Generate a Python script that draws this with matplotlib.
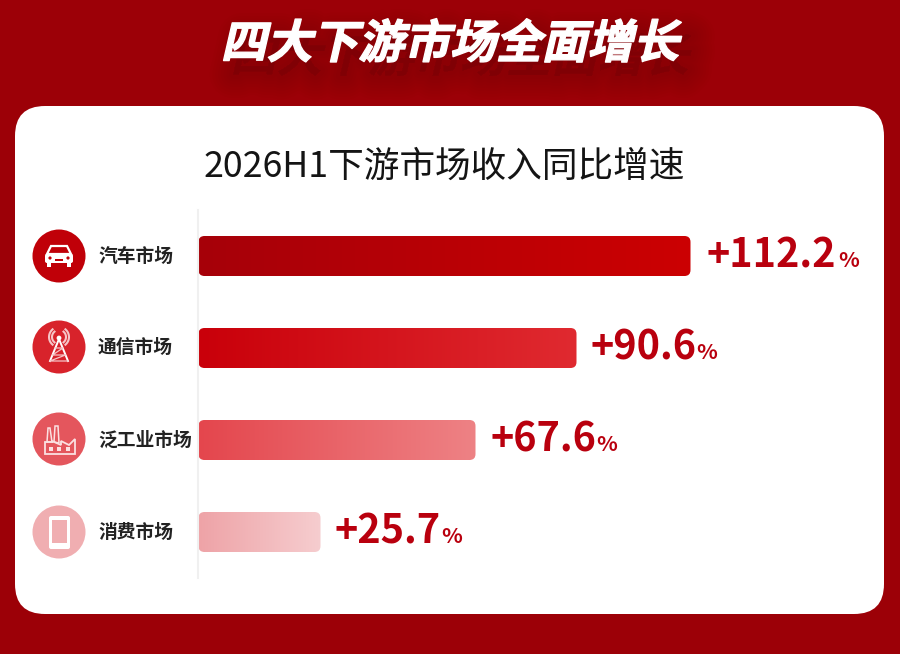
# -*- coding: utf-8 -*-
import numpy as np
import matplotlib
matplotlib.use('Agg')
import matplotlib.pyplot as plt
from matplotlib.patches import FancyBboxPatch, Circle, Rectangle, Polygon
from matplotlib.colors import LinearSegmentedColormap
from matplotlib.patheffects import AbstractPathEffect
from matplotlib.transforms import Affine2D

plt.rcParams['font.family'] = ['Noto Sans CJK SC', 'DejaVu Sans']

main_title = '四大下游市场全面增长'
sub_title = '2026H1下游市场收入同比增速'
categories = ['汽车市场', '通信市场', '泛工业市场', '消费市场']
values = [112.2, 90.6, 67.6, 25.7]
# drawn bar lengths, they are not quite to scale with the labels
bar_lengths = [492, 378, 277, 122]

bg_red = '#9c0007'
text_red = '#b9000e'
bar_left = ['#a60009', '#c9000a', '#e4464d', '#eea3a7']
bar_right = ['#cc0002', '#e02a30', '#ee8285', '#f6cdcf']
icon_col = ['#c00008', '#d8232b', '#e4565d', '#f0aeb1']


class Slant(AbstractPathEffect):
    # fake italic for the CJK title, the font has no oblique face
    def __init__(self, deg=13, offset=(0, 0), color=None, alpha=None, lw=0):
        super().__init__(offset)
        self.deg = deg
        self.color = color
        self.alpha = alpha
        self.lw = lw

    def draw_path(self, renderer, gc, tpath, affine, rgbFace=None):
        gc0 = renderer.new_gc()
        gc0.copy_properties(gc)
        face = rgbFace
        if self.color is not None:
            face = matplotlib.colors.to_rgba(self.color, self.alpha)
            gc0.set_foreground(face)
            gc0.set_linewidth(self.lw)
            gc0.set_alpha(self.alpha)
        aff = Affine2D().skew_deg(self.deg, 0) + affine
        aff = aff + Affine2D().translate(*self._offset_transform(renderer).to_values()[4:])
        renderer.draw_path(gc0, tpath, aff, face)
        gc0.restore()


fig = plt.figure(figsize=(9, 6.54), dpi=100, facecolor=bg_red)

# page layer in pixel coordinates
bg = fig.add_axes([0, 0, 1, 1])
bg.set_xlim(0, 900)
bg.set_ylim(654, 0)
bg.axis('off')

card = FancyBboxPatch((15, 106), 869, 508, boxstyle='round,pad=0,rounding_size=30',
                      fc='white', ec='none')
bg.add_patch(card)

shadow = [Slant(13, (7, -10), '#5a0005', 0.022, 6 + 4 * k) for k in range(8)]
bg.text(450, 45, main_title, ha='center', va='center', fontsize=33, fontweight='bold',
        color='white', path_effects=shadow + [Slant(13, (0, 0), 'white', 1, 1.0)])
bg.text(444.5, 167, sub_title, ha='center', va='center', fontsize=25.7, color='#141414')

# chart layer: x in px from the bar start, y in category index
ax = fig.add_axes([198 / 900, 1 - 578 / 654, 686 / 900, 368 / 654])
ax.set_xlim(0, 686)
ax.set_ylim(3.5, -0.5)
ax.patch.set_alpha(0)
for s in ['top', 'right', 'bottom']:
    ax.spines[s].set_visible(False)
ax.spines['left'].set_color('#f0f0f0')
ax.spines['left'].set_linewidth(1.5)
ax.set_xticks([])
ax.set_yticks([])

bar_h = 40 / 92
label_gap = [17, 14, 15, 15]
pct_gap = [1.5, 0, 0, 0]
for i, (length, val) in enumerate(zip(bar_lengths, values)):
    cmap = LinearSegmentedColormap.from_list('b%d' % i, [bar_left[i], bar_right[i]])
    box = FancyBboxPatch((0.5, i - bar_h / 2), length, bar_h,
                         boxstyle='round,pad=0,rounding_size=6', mutation_aspect=1 / 92,
                         fc='none', ec='none')
    ax.add_patch(box)
    im = ax.imshow(np.linspace(0, 1, 256).reshape(1, -1), cmap=cmap, aspect='auto',
                   extent=(0.5, length + 0.5, i + bar_h / 2, i - bar_h / 2), zorder=2)
    im.set_clip_path(box)
    t = ax.text(length + label_gap[i], i + 0.005, '+%.1f' % val, ha='left', va='center',
                fontsize=28.5, fontweight='bold', color=text_red)
    ax.annotate('%', xy=(1, 0), xycoords=t, xytext=(pct_gap[i], 4.5), textcoords='offset points',
                ha='left', va='bottom', fontsize=15.5, color=text_red, fontweight='bold')
ax.set_xlim(0, 686)
ax.set_ylim(3.5, -0.5)

# category labels and icons
icon_y = [256, 347, 439, 532]
label_y = [256, 347, 440, 532]
for i, name in enumerate(categories):
    bg.text(98, label_y[i], name, ha='left', va='center', fontsize=13.5, fontweight='bold',
            color='#222222')
    bg.add_patch(Circle((59, icon_y[i]), 26.5, fc=icon_col[i], ec='none'))

w = 'white'
# car
cy = icon_y[0]
bg.add_patch(Polygon([(51, cy - 10), (67, cy - 10), (71, cy - 2), (47, cy - 2)], closed=True, fc='none', ec=w, lw=1.6))
bg.add_patch(FancyBboxPatch((45, cy - 2), 28, 9, boxstyle='round,pad=0,rounding_size=2', fc=w, ec='none'))
bg.add_patch(Rectangle((47, cy + 7), 4, 4, fc=w, ec='none'))
bg.add_patch(Rectangle((67, cy + 7), 4, 4, fc=w, ec='none'))
bg.add_patch(Circle((50, cy + 2), 1.6, fc=icon_col[0], ec='none'))
bg.add_patch(Circle((68, cy + 2), 1.6, fc=icon_col[0], ec='none'))
bg.add_patch(Rectangle((55, cy + 3), 8, 2, fc=icon_col[0], ec='none'))

# tower
cy = icon_y[1]
bg.plot([59, 50], [cy - 8, cy + 14], color=w, lw=1.4)
bg.plot([59, 68], [cy - 8, cy + 14], color=w, lw=1.4)
bg.plot([55, 63, 52.5, 65.5, 50, 68], [cy + 1, cy + 1, cy + 8, cy + 8, cy + 14, cy + 14], color='#f6c4c6', lw=0.9)
bg.add_patch(Circle((59, cy - 9), 2.4, fc=w, ec='none'))
for sx in [-1, 1]:
    for r in [7, 10]:
        a = np.radians(np.linspace(-50, 50, 12))
        px = 59 + sx * r * np.cos(a)
        py = cy - 10 + r * np.sin(a)
        bg.plot(px, py, color='#f6c4c6', lw=1.5)

# factory
cy = icon_y[2] + 1
bg.add_patch(Polygon([(45, cy + 14), (45, cy + 2), (52, cy + 2), (52, cy + 1), (61, cy + 5), (61, cy + 1),
                      (69, cy + 5), (75, cy - 1), (75, cy + 14)], closed=True, fc='none', ec='#fbe0e1', lw=1.3))
bg.add_patch(Polygon([(47, cy + 2), (48, cy - 12), (50, cy - 12), (52, cy + 2)], closed=True, fc='none', ec='#fbe0e1', lw=1.1))
bg.add_patch(Polygon([(54, cy + 2), (55, cy - 14), (58, cy - 14), (59, cy + 3)], closed=True, fc='none', ec='#fbe0e1', lw=1.1))
for x0 in [49, 57, 66]:
    bg.add_patch(Rectangle((x0, cy + 7), 4, 3.5, fc='#fbe0e1', ec='none'))

# tablet
cy = icon_y[3]
bg.add_patch(FancyBboxPatch((49, cy - 16), 21, 33, boxstyle='round,pad=0,rounding_size=2', fc=w, ec='none'))
bg.add_patch(Rectangle((52, cy - 12), 15, 23, fc=icon_col[3], ec='none'))

fig.savefig('out.png', dpi=100, facecolor=bg_red)
